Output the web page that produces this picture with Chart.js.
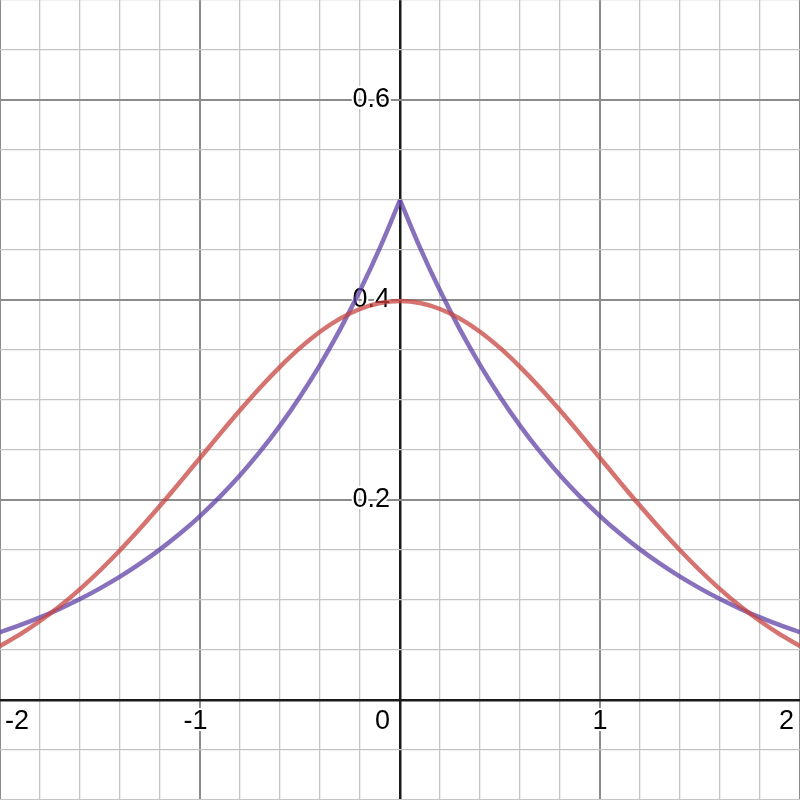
<!DOCTYPE html>
<html>
<head>
<meta charset="utf-8">
<script src="https://cdn.jsdelivr.net/npm/chart.js@4"></script>
<style>
  html, body { margin: 0; padding: 0; background: #fff; }
  #wrap { width: 800px; height: 800px; }
</style>
</head>
<body>
<div id="wrap"><canvas id="graph"></canvas></div>
<script>
// sample positions along x, every 0.1
const xValues = [
  -2.0, -1.9, -1.8, -1.7, -1.6, -1.5, -1.4, -1.3, -1.2, -1.1,
  -1.0, -0.9, -0.8, -0.7, -0.6, -0.5, -0.4, -0.3, -0.2, -0.1,
  0.0, 0.1, 0.2, 0.3, 0.4, 0.5, 0.6, 0.7, 0.8, 0.9,
  1.0, 1.1, 1.2, 1.3, 1.4, 1.5, 1.6, 1.7, 1.8, 1.9, 2.0
]

// red bell curve
const redValues = [
  0.0540, 0.0656, 0.0790, 0.0940, 0.1109, 0.1295, 0.1497, 0.1714, 0.1942, 0.2179,
  0.2420, 0.2661, 0.2897, 0.3123, 0.3332, 0.3521, 0.3683, 0.3814, 0.3910, 0.3970,
  0.3989, 0.3970, 0.3910, 0.3814, 0.3683, 0.3521, 0.3332, 0.3123, 0.2897, 0.2661,
  0.2420, 0.2179, 0.1942, 0.1714, 0.1497, 0.1295, 0.1109, 0.0940, 0.0790, 0.0656, 0.0540
]

// purple peaked curve
const purpleValues = [
  0.0677, 0.0748, 0.0826, 0.0913, 0.1009, 0.1116, 0.1233, 0.1363, 0.1506, 0.1664,
  0.1839, 0.2033, 0.2247, 0.2483, 0.2744, 0.3033, 0.3352, 0.3704, 0.4094, 0.4524,
  0.5000, 0.4524, 0.4094, 0.3704, 0.3352, 0.3033, 0.2744, 0.2483, 0.2247, 0.2033,
  0.1839, 0.1664, 0.1506, 0.1363, 0.1233, 0.1116, 0.1009, 0.0913, 0.0826, 0.0748, 0.0677
]

const xTickLabels = [-2, -1, 0, 1, 2]
const yTickLabels = [0.2, 0.4, 0.6]

const RED = "rgba(199, 68, 64, 0.75)"
const PURPLE = "rgba(96, 66, 166, 0.75)"

function points(ys, from, to) {
  const out = []
  for (let i = from; i <= to; i++) out.push({ x: xValues[i], y: ys[i] })
  return out
}

const mid = xValues.indexOf(0)

function curve(data, color) {
  return {
    data: data,
    borderColor: color,
    borderWidth: 4.5,
    pointRadius: 0,
    fill: false,
    cubicInterpolationMode: "monotone",
  }
}

function isMultiple(v, step) {
  const r = v / step
  return Math.abs(r - Math.round(r)) < 1e-6
}

function gridStyle(step) {
  return {
    drawTicks: false,
    color: (ctx) => {
      const v = ctx.tick.value
      if (Math.abs(v) < 1e-9) return "#1a1a1a"
      return isMultiple(v, step) ? "#8c8c8c" : "#c4c4c4"
    },
    lineWidth: (ctx) => {
      const v = ctx.tick.value
      if (Math.abs(v) < 1e-9) return 2.5
      return isMultiple(v, step) ? 2 : 1.3
    },
  }
}

// tick numbers sit under the curves, with a white halo like the original
const labelPlugin = {
  id: "axisLabels",
  beforeDatasetsDraw(chart) {
    const c = chart.ctx
    const xs = chart.scales.x
    const ys = chart.scales.y
    const x0 = xs.getPixelForValue(0)
    const y0 = ys.getPixelForValue(0)
    c.save()
    c.font = "27px 'Liberation Sans', Arial, sans-serif"
    c.textBaseline = "middle"
    c.lineJoin = "round"
    c.strokeStyle = "#ffffff"
    c.lineWidth = 4
    c.fillStyle = "#000000"

    const put = (text, x, y) => {
      c.strokeText(text, x, y)
      c.fillText(text, x, y)
    }

    xTickLabels.forEach((v) => {
      const text = String(v)
      const px = xs.getPixelForValue(v)
      const y = y0 + 22
      c.textAlign = "right"
      if (v === 0) {
        put(text, x0 - 10, y)
        return
      }
      const absW = c.measureText(String(Math.abs(v))).width
      const fullW = c.measureText(text).width
      let right = px + absW / 2
      right = Math.max(right, 5 + fullW)
      right = Math.min(right, chart.width - 6)
      put(text, right, y)
    })

    yTickLabels.forEach((v) => {
      c.textAlign = "right"
      put(String(v), x0 - 10, ys.getPixelForValue(v))
    })
    c.restore()
  },
}

new Chart(document.getElementById("graph"), {
  type: "line",
  data: {
    datasets: [
      curve(points(redValues, 0, xValues.length - 1), RED),
      curve(points(purpleValues, 0, mid), PURPLE),
      curve(points(purpleValues, mid, xValues.length - 1), PURPLE),
    ],
  },
  options: {
    responsive: true,
    maintainAspectRatio: false,
    animation: false,
    layout: { padding: 0 },
    plugins: {
      legend: { display: false },
      tooltip: { enabled: false },
    },
    scales: {
      x: {
        type: "linear",
        min: -2,
        max: 2,
        border: { display: false },
        ticks: { display: false, stepSize: 0.2 },
        grid: gridStyle(1),
        afterFit: (s) => { s.height = 0 },
      },
      y: {
        type: "linear",
        min: -0.1,
        max: 0.7,
        border: { display: false },
        ticks: { display: false, stepSize: 0.05 },
        grid: gridStyle(0.2),
        afterFit: (s) => { s.width = 0 },
      },
    },
  },
  plugins: [labelPlugin],
})
</script>
</body>
</html>
